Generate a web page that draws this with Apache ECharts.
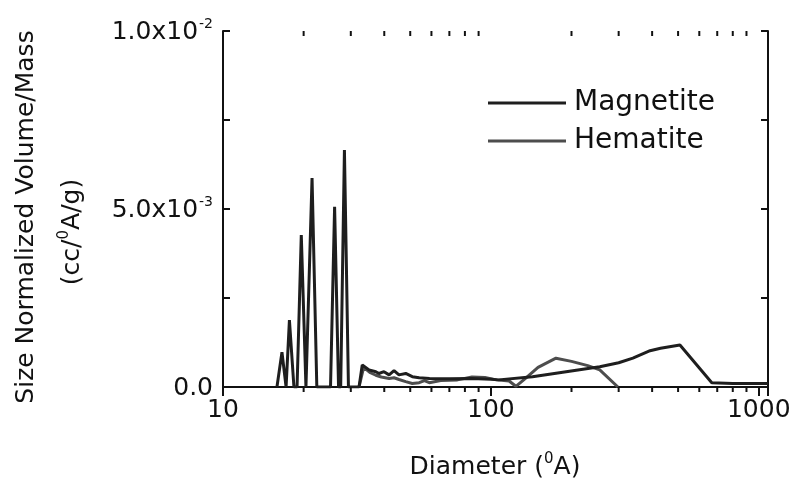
<!DOCTYPE html>
<html>
<head>
<meta charset="utf-8">
<script src="https://cdn.jsdelivr.net/npm/echarts@6/dist/echarts.min.js"></script>
<style>html,body{margin:0;padding:0;background:#fff}#c{width:794px;height:481px}</style>
</head>
<body>
<div id="c"></div>
<script>
// ---- data ----
const magDiameter = [15.9,16.6,17.2,17.1,17.7,18.4,18.9,19.6,20.4,20.7,21.5,22.4,25.2,26.1,27.0,27.5,28.4,29.4,32.2,
  33.1,35.1,37.2,38.2,39.9,41.7,43.5,45.4,48.1,50.9,54,59,70,85,100,107,143,191,255,300,339,393,430,508,668,800,1083];
const magValue = [0,0.00098,0,0,0.00188,0,0,0.00427,0,0,0.00587,0,0,0.00506,0,0,0.00666,0,0,
  0.00062,0.00048,0.00043,0.00038,0.00043,0.00034,0.00046,0.00034,0.00038,0.00029,0.00026,0.00024,0.00023,0.00024,0.00022,0.0002,0.00029,0.00043,0.00057,0.00068,0.00081,0.00102,0.00109,0.00118,0.00012,0.0001,0.0001];
const hemDiameter = [32.2,33.5,35.5,37.2,39,41.7,43.5,45.4,48.1,50.9,54,56.5,58.9,65,75,85,95,105,117,124,135,150,175,200,230,255,298];
const hemValue = [0,0.00055,0.0004,0.00033,0.00028,0.00024,0.00026,0.00021,0.00015,0.0001,0.00012,0.00018,0.00012,0.00018,0.0002,0.00028,0.00027,0.0002,0.00017,0.00002,0.00025,0.00055,0.00081,0.00072,0.0006,0.00048,0];
const xMin = 10, xMax = 1083;
const yMin = 0, yMax = 0.01, yStep = 0.0025;
const xMinorTicks = [20,30,40,50,60,70,80,90,200,300,400,500,600,700,800,900];
const yTickValues = [0, 0.005, 0.01];
const yTickMantissa = ['0.0', '5.0x10', '1.0x10'];
const yTickExponent = ['', '-3', '-2'];

const FONT = '"DejaVu Sans", "Liberation Sans", Arial, sans-serif';
const INK = '#111';

const chart = echarts.init(document.getElementById('c'), null, {renderer: 'canvas'});

function yLabel(v) {
  for (let i = 0; i < yTickValues.length; i++) {
    if (Math.abs(v - yTickValues[i]) < 1e-9) {
      let s = '{m|' + yTickMantissa[i] + '}';
      if (yTickExponent[i]) s += '{s|' + yTickExponent[i] + '}';
      return s;
    }
  }
  return '';
}

const option = {
  backgroundColor: '#fff',
  animation: false,
  grid: {left: 223, right: 26, top: 31, bottom: 94},
  legend: {
    data: ['Magnetite', 'Hematite'],
    orient: 'vertical', left: 488, top: 88, padding: 0,
    icon: 'rect', itemWidth: 78, itemHeight: 3, itemGap: 8,
    textStyle: {fontFamily: FONT, fontSize: 28, color: INK, lineHeight: 30, padding: [0, 0, 0, 3]}
  },
  xAxis: [{
    type: 'log', logBase: 10, min: xMin, max: xMax,
    axisLine: {show: true, lineStyle: {color: INK, width: 2}},
    axisTick: {show: true, inside: false, length: 9, lineStyle: {color: INK, width: 2}},
    axisLabel: {show: true, margin: 11, fontFamily: FONT, fontSize: 25, color: INK, showMaxLabel: false,
      formatter: function (v) { return String(Math.round(v)); }},
    splitLine: {show: false}
  }, {
    type: 'log', logBase: 10, min: xMin, max: xMax, position: 'top',
    axisLine: {show: true, lineStyle: {color: INK, width: 2}},
    axisTick: {show: true, inside: true, length: 9, lineStyle: {color: INK, width: 2}},
    axisLabel: {show: false}, splitLine: {show: false}
  }],
  yAxis: [{
    type: 'value', min: yMin, max: yMax, interval: yStep,
    axisLine: {show: true, lineStyle: {color: INK, width: 2}},
    axisTick: {show: true, inside: true, length: 7, lineStyle: {color: INK, width: 2}},
    axisLabel: {
      show: true, margin: 10, formatter: yLabel,
      rich: {
        m: {fontFamily: FONT, fontSize: 25, color: INK, lineHeight: 28, verticalAlign: 'bottom'},
        s: {fontFamily: FONT, fontSize: 14, color: INK, lineHeight: 14, verticalAlign: 'top', padding: [0, 0, 22, 1]}
      }
    },
    splitLine: {show: false}
  }, {
    type: 'value', min: yMin, max: yMax, interval: yStep, position: 'right',
    axisLine: {show: true, lineStyle: {color: INK, width: 2}},
    axisTick: {show: true, inside: true, length: 7, lineStyle: {color: INK, width: 2}},
    axisLabel: {show: false}, splitLine: {show: false}
  }],
  graphic: [
    {type: 'text', x: 495, y: 466, style: {
      text: '{m|Diameter (}{s|0}{m|A)}', align: 'center', verticalAlign: 'middle',
      rich: {m: {fontFamily: FONT, fontSize: 25, fill: INK, lineHeight: 28, verticalAlign: 'bottom'},
             s: {fontFamily: FONT, fontSize: 15, fill: INK, lineHeight: 15, verticalAlign: 'top', padding: [0, 0, 16, 0]}}
    }},
    {type: 'text', x: 26, y: 217, rotation: Math.PI / 2, style: {
      text: 'Size Normalized Volume/Mass', align: 'center', verticalAlign: 'middle',
      font: '25px ' + FONT, fill: INK
    }},
    {type: 'text', x: 71, y: 232, rotation: Math.PI / 2, style: {
      text: '{m|(cc/}{s|0}{m|A/g)}', align: 'center', verticalAlign: 'middle',
      rich: {m: {fontFamily: FONT, fontSize: 25, fill: INK, lineHeight: 28, verticalAlign: 'bottom'},
             s: {fontFamily: FONT, fontSize: 15, fill: INK, lineHeight: 15, verticalAlign: 'top', padding: [0, 0, 16, 0]}}
    }}
  ],
  series: [{
    name: 'Magnetite', type: 'line', xAxisIndex: 0, yAxisIndex: 0,
    data: magDiameter.map((d, i) => [d, magValue[i]]),
    symbol: 'none', showSymbol: false, smooth: false,
    lineStyle: {color: '#1e1e1e', width: 3}, itemStyle: {color: '#1e1e1e'}, z: 3
  }, {
    name: 'Hematite', type: 'line', xAxisIndex: 0, yAxisIndex: 0,
    data: hemDiameter.map((d, i) => [d, hemValue[i]]),
    symbol: 'none', showSymbol: false, smooth: false,
    lineStyle: {color: '#4d4d4d', width: 3}, itemStyle: {color: '#4d4d4d'}, z: 2
  }, {
    name: 'minorTicks', type: 'custom', xAxisIndex: 0, yAxisIndex: 0, silent: true, clip: false, z: 4,
    data: xMinorTicks.map(v => [v, yMin]),
    renderItem: function (params, api) {
      const v = api.value(0);
      const b = api.coord([v, yMin]);
      const t = api.coord([v, yMax]);
      const st = {stroke: INK, lineWidth: 2};
      return {type: 'group', children: [
        {type: 'line', shape: {x1: b[0], y1: b[1], x2: b[0], y2: b[1] + 5}, style: st},
        {type: 'line', shape: {x1: t[0], y1: t[1], x2: t[0], y2: t[1] + 5}, style: st}
      ]};
    }
  }]
};
chart.setOption(option);
</script>
</body>
</html>
